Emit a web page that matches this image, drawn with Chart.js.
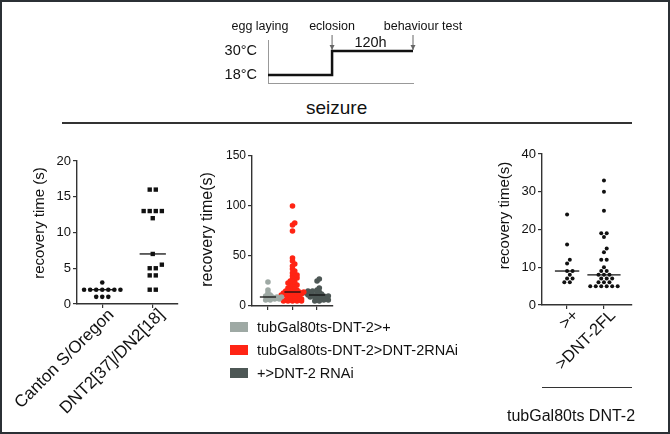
<!DOCTYPE html>
<html>
<head>
<meta charset="utf-8">
<script src="https://cdn.jsdelivr.net/npm/chart.js@4.4.0/dist/chart.umd.min.js"></script>
<style>
  body { margin: 0; background: #fff; font-family: "Liberation Sans", Arial, sans-serif; color: #111; }
  #page { position: relative; width: 670px; height: 434px; overflow: hidden; background: #fff; }
  .frame { position: absolute; left: 0; top: 0; right: 0; bottom: 0; border: 2px solid #2b3035; }
  .box { position: absolute; }
  .txt { position: absolute; white-space: nowrap; line-height: 1; }
  .rule { position: absolute; background: #333; }
  .key { position: absolute; width: 18px; height: 10px; }
</style>
</head>
<body>
<div id="page">
  <div class="box" style="left:200px;top:10px;width:270px;height:85px"><canvas id="sched"></canvas></div>

  <div class="txt" style="left:306px;top:98px;font-size:19px">seizure</div>
  <div class="rule" style="left:62px;top:122px;width:570px;height:1.5px"></div>

  <div class="box" style="left:0;top:140px;width:200px;height:290px"><canvas id="chartA"></canvas></div>
  <div class="box" style="left:195px;top:140px;width:150px;height:180px"><canvas id="chartB"></canvas></div>
  <div class="box" style="left:460px;top:140px;width:200px;height:245px"><canvas id="chartC"></canvas></div>

  <div id="legend"></div>

  <div class="rule" style="left:542px;top:387px;width:90px;height:1.3px"></div>
  <div class="txt" style="left:507px;top:408px;font-size:16px">tubGal80ts DNT-2</div>
  <div class="frame"></div>
</div>

<script>
// temperature schedule
const schedTime = [0, 95, 95, 215];
const schedTemp = [18, 18, 30, 30];
const tempTicks = [18, 30];
const eventNames = ['egg laying', 'eclosion', 'behaviour test'];
const eventTimes = [0, 95, 215];
const periodText = '120h';

// panel 1
const groupsA = ['Canton S/Oregon', 'DNT2[37]/DN2[18]'];
const cantonVals = [3, 2, 2, 2, 2, 2, 2, 2, 1, 1, 1];
const dntMutVals = [16, 16, 13, 13, 13, 13, 12, 7, 5.5, 5, 5, 4, 4, 2, 2];

// panel 2
const groupsB = ['tubGal80ts-DNT-2>+', 'tubGal80ts-DNT-2>DNT-2RNAi', '+>DNT-2 RNAi'];
const gal4CtrlVals = [24, 16, 13, 11, 10, 9, 9, 9, 8, 7, 7, 6, 6];
const rnaiVals = [100, 83, 81, 75, 48, 45, 42, 40, 37, 35, 33, 31, 30, 28, 27, 25, 24, 23, 22, 21,
                  20, 19, 18, 17, 16, 15, 15, 14, 14, 14, 13, 13, 12, 12, 12, 11, 11, 10, 10, 10,
                  9, 9, 9, 8, 8, 8, 7, 7, 7, 7, 6, 6, 6, 6, 5, 5, 5, 5, 5];
const rnaiCtrlVals = [27, 25, 18, 16, 15, 15, 14, 13, 13, 12, 12, 11, 11, 10, 10, 10, 9, 9, 8, 8, 7, 6, 6, 5, 5];
const colorsB = ['#9ea9a4', '#ff2414', '#4d5755'];

// panel 3
const groupsC = ['>+', '>DNT-2FL'];
const flCtrlVals = [24, 16, 12, 11, 9, 9, 8, 7, 7, 6, 6];
const flVals = [33, 30, 25, 19, 19, 18, 15, 14, 12, 12, 10, 9, 9, 8, 8, 8, 7, 7, 7, 6, 6, 6, 5, 5, 5, 5, 5, 5];

const FONT = '"Liberation Sans", Arial, sans-serif';
Chart.defaults.font.family = FONT;
Chart.defaults.color = '#111';

function median(vals) {
  const s = vals.slice().sort((a, b) => a - b);
  const m = Math.floor(s.length / 2);
  return s.length % 2 ? s[m] : (s[m - 1] + s[m]) / 2;
}

// spread equal values side by side, shifting rows that would overlap others
function swarm(vals, center, pxX, pxY, d, minDist) {
  const counts = new Map();
  vals.slice().sort((a, b) => a - b).forEach(v => counts.set(v, (counts.get(v) || 0) + 1));
  const placed = [];
  const out = [];
  const shifts = [0, 0.5, -0.5, 1, -1, 1.5, -1.5, 2, -2];
  counts.forEach((n, v) => {
    const py = v * pxY;
    let best = null, bestScore = -1;
    for (const sh of shifts) {
      const xs = [];
      for (let i = 0; i < n; i++) xs.push((i - (n - 1) / 2) * d + sh * d);
      let worst = Infinity;
      xs.forEach(x => placed.forEach(p => {
        worst = Math.min(worst, Math.hypot(x - p[0], py - p[1]));
      }));
      if (worst >= minDist) { best = xs; break; }
      if (worst > bestScore) { bestScore = worst; best = xs; }
    }
    best.forEach(x => { placed.push([x, py]); out.push({ x: center + x / pxX, y: v }); });
  });
  return out;
}

function medianLine(vals, center, half) {
  const m = median(vals);
  return {
    type: 'line', data: [{ x: center - half, y: m }, { x: center + half, y: m }],
    borderColor: '#111', borderWidth: 1.3, pointRadius: 0, order: 0
  };
}

function dots(data, color, style, r) {
  return {
    data: data, pointStyle: style, pointRadius: r, pointBackgroundColor: color,
    pointBorderWidth: 0, showLine: false, order: 1
  };
}

const yTitle = {
  id: 'yTitle',
  afterDraw(chart, args, o) {
    const ctx = chart.ctx;
    ctx.save();
    ctx.translate(o.x, o.y);
    ctx.rotate(-Math.PI / 2);
    ctx.font = o.size + 'px ' + FONT;
    ctx.fillStyle = '#111';
    ctx.textAlign = 'center';
    ctx.textBaseline = 'middle';
    ctx.fillText(o.text, 0, 0);
    ctx.restore();
  }
};

function yScale(min, max, step, width, size) {
  return {
    min: min, max: max,
    ticks: { stepSize: step, font: { size: size }, color: '#111', padding: 2 },
    grid: { drawOnChartArea: false, tickLength: 4, color: '#333', lineWidth: 1.2 },
    border: { color: '#333', width: 1.4 },
    afterFit: s => { s.width = width; }
  };
}

function xScale(min, max, labels, height, size) {
  return {
    type: 'linear', min: min, max: max,
    afterBuildTicks: s => { s.ticks = labels.map((_, i) => ({ value: i + 1 })); },
    ticks: {
      autoSkip: false, minRotation: 45, maxRotation: 45, font: { size: size }, color: '#111',
      padding: -3, labelOffset: 9,
      callback: v => labels[v - 1] || ''
    },
    grid: { drawOnChartArea: false, tickLength: 4, color: '#333', lineWidth: 1.2 },
    border: { color: '#333', width: 1.4 },
    afterFit: s => { s.height = height; s.paddingLeft = 0; s.paddingRight = 0; }
  };
}

function baseOptions(padding, scales, title) {
  return {
    responsive: true, maintainAspectRatio: false, animation: false, events: [],
    layout: { padding: padding },
    plugins: { legend: { display: false }, tooltip: { enabled: false }, yTitle: title },
    scales: scales
  };
}

// schedule diagram
const schedLabels = {
  id: 'schedLabels',
  afterDraw(chart) {
    const ctx = chart.ctx, xs = chart.scales.x, ys = chart.scales.y;
    const top = ys.getPixelForValue(30);
    ctx.save();
    ctx.fillStyle = '#111';
    ctx.textBaseline = 'middle';
    ctx.font = '12.5px ' + FONT;
    const nudge = [-8, 0, 10];
    eventNames.forEach((name, i) => {
      const x = xs.getPixelForValue(eventTimes[i]);
      ctx.textAlign = 'center';
      ctx.fillText(name, x + nudge[i], 17);
      if (i > 0) {
        ctx.strokeStyle = '#666';
        ctx.fillStyle = '#666';
        ctx.lineWidth = 1;
        ctx.beginPath(); ctx.moveTo(x, 25); ctx.lineTo(x, top - 1); ctx.stroke();
        ctx.beginPath(); ctx.moveTo(x - 2.5, top - 6); ctx.lineTo(x + 2.5, top - 6); ctx.lineTo(x, top - 1); ctx.fill();
        ctx.fillStyle = '#111';
      }
    });
    ctx.font = '14.5px ' + FONT;
    const mid = (xs.getPixelForValue(eventTimes[1]) + xs.getPixelForValue(eventTimes[2])) / 2;
    ctx.textAlign = 'center';
    ctx.fillText(periodText, mid - 2, 33);
    ctx.restore();
  }
};

new Chart(document.getElementById('sched'), {
  type: 'line',
  data: {
    datasets: [{
      data: schedTime.map((t, i) => ({ x: t, y: schedTemp[i] })),
      borderColor: '#111', borderWidth: 2.5, pointRadius: 0, tension: 0
    }]
  },
  options: {
    responsive: true, maintainAspectRatio: false, animation: false, events: [],
    layout: { padding: { top: 30, right: 57, left: 0, bottom: 0 } },
    plugins: { legend: { display: false }, tooltip: { enabled: false } },
    scales: {
      x: {
        type: 'linear', min: 0, max: 215,
        ticks: { display: false }, grid: { display: false },
        border: { color: '#999', width: 1 },
        afterFit: s => { s.height = 12; }
      },
      y: {
        min: 14, max: 35.5,
        afterBuildTicks: s => { s.ticks = tempTicks.map(v => ({ value: v })); },
        ticks: { font: { size: 14.5 }, color: '#111', padding: 3, callback: v => v + '°C' },
        grid: { display: false },
        border: { color: '#999', width: 1 },
        afterFit: s => { s.width = 68; }
      }
    }
  },
  plugins: [schedLabels]
});

// panel 1
new Chart(document.getElementById('chartA'), {
  type: 'scatter',
  data: {
    datasets: [
      medianLine(cantonVals, 1, 0.26),
      medianLine(dntMutVals, 2, 0.26),
      dots(swarm(cantonVals, 1, 50, 7.15, 6, 5.5), '#111', 'circle', 2.3),
      dots(swarm(dntMutVals, 2, 50, 7.15, 6, 5.5), '#111', 'rect', 3.1)
    ]
  },
  options: baseOptions({ top: 21, right: 22, left: 0, bottom: 0 }, {
    x: xScale(0.5, 2.5, groupsA, 126, 17),
    y: yScale(0, 20, 5, 77, 13)
  }, { text: 'recovery time (s)', x: 40, y: 83, size: 15 }),
  plugins: [yTitle]
});

// panel 2
const valsB = [gal4CtrlVals, rnaiVals, rnaiCtrlVals];
new Chart(document.getElementById('chartB'), {
  type: 'scatter',
  data: {
    datasets: valsB.map((v, i) => medianLine(v, i + 1, 0.33)).concat(
      valsB.map((v, i) => dots(swarm(v, i + 1, 24.5, 1, 4.5, 2.5), colorsB[i], 'circle', 2.8)))
  },
  options: baseOptions({ top: 16, right: 12, left: 0, bottom: 0 }, {
    x: xScale(0.35, 3.65, groupsB.map(() => ''), 14, 12),
    y: yScale(0, 150, 50, 57, 12)
  }, { text: 'recovery time(s)', x: 13, y: 89.5, size: 16 }),
  plugins: [yTitle]
});

// panel 3
new Chart(document.getElementById('chartC'), {
  type: 'scatter',
  data: {
    datasets: [
      medianLine(flCtrlVals, 1, 0.33),
      medianLine(flVals, 2, 0.45),
      dots(swarm(flCtrlVals, 1, 37, 3.78, 5.5, 4.5), '#111', 'circle', 2),
      dots(swarm(flVals, 2, 37, 3.78, 5.5, 4.5), '#111', 'circle', 2)
    ]
  },
  options: baseOptions({ top: 14, right: 28, left: 0, bottom: 0 }, {
    x: xScale(0.32, 2.76, groupsC, 80, 16.5),
    y: yScale(0, 40, 10, 82, 13)
  }, { text: 'recovery time(s)', x: 45, y: 75.5, size: 15 }),
  plugins: [yTitle]
});

// legend for panel 2
const legend = document.getElementById('legend');
groupsB.forEach((name, i) => {
  const y = 327 + i * 23;
  legend.insertAdjacentHTML('beforeend',
    '<div class="key" style="left:230px;top:' + (y - 5) + 'px;background:' + colorsB[i] + '"></div>' +
    '<div class="txt" style="left:257px;top:' + (y - 7.5) + 'px;font-size:14.5px"></div>');
  legend.lastElementChild.textContent = name;
});
</script>
</body>
</html>
